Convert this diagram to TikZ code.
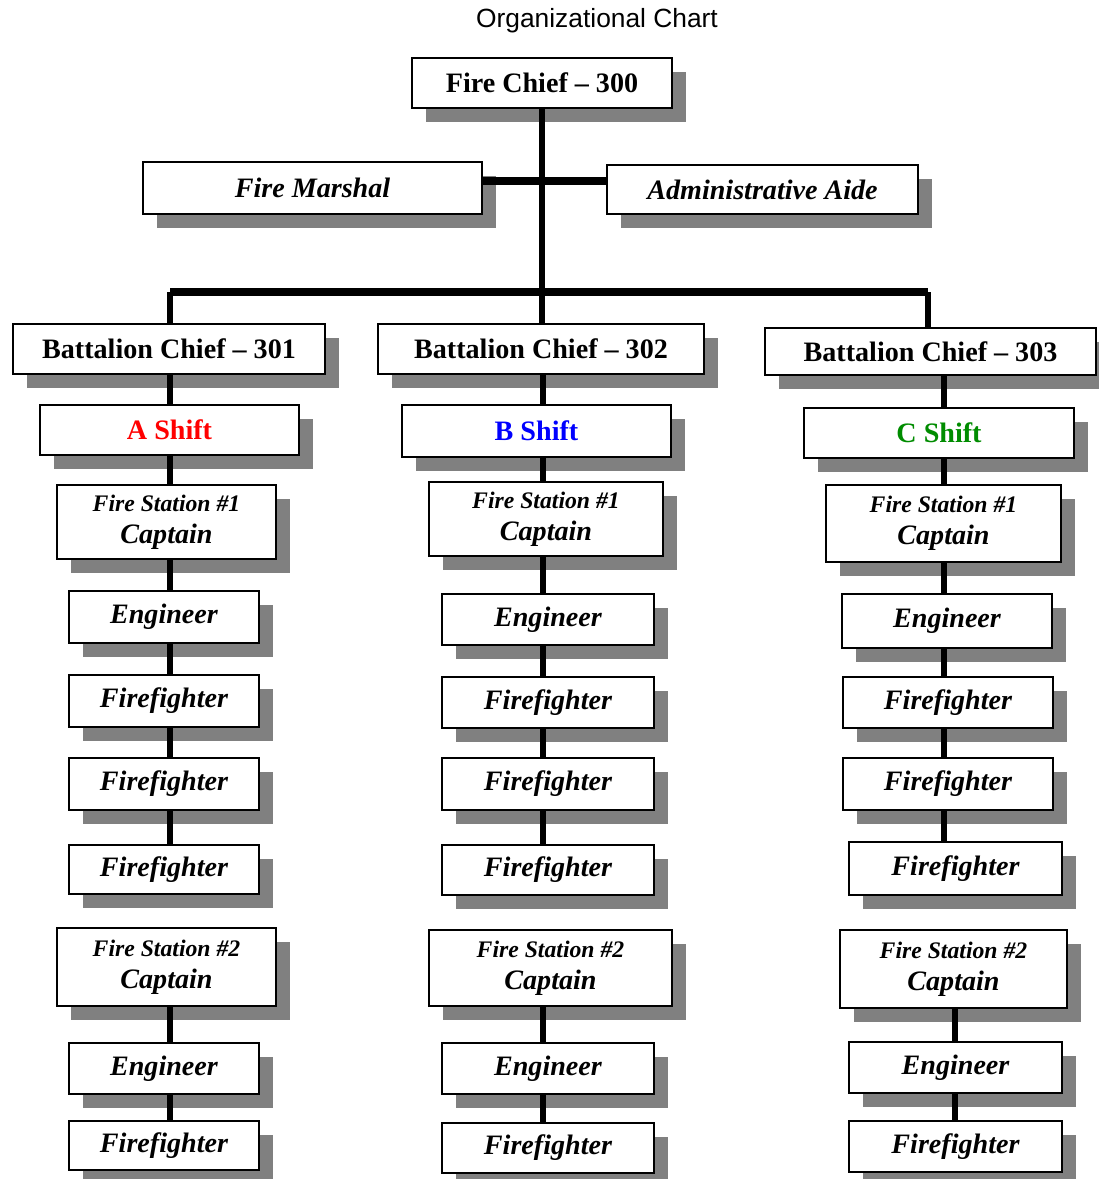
\documentclass[tikz,border=0pt]{standalone}
\usepackage{fontspec}
\setmainfont{Liberation Serif}
\newfontfamily\titlefont{Liberation Sans}
\usepackage{tikz}
\usetikzlibrary{shadows}

\definecolor{shadowgray}{RGB}{128,128,128}
\definecolor{shiftred}{RGB}{255,0,0}
\definecolor{shiftblue}{RGB}{0,0,255}
\definecolor{shiftgreen}{RGB}{0,140,0}

\tikzset{
  post/.style={draw, line width=1.6pt, fill=white, inner sep=1pt, align=center,
    font=\bfseries\itshape\fontsize{16}{18}\selectfont,
    drop shadow={shadow xshift=0.28cm, shadow yshift=-0.28cm,
                 fill=shadowgray, opacity=1}},
  head/.style={post, font=\bfseries\fontsize{16}{18}\selectfont},
  link/.style={line width=3.2pt},
  bar/.style={line width=4pt},
}

\newcommand{\station}[1]{{\fontsize{13.5}{17}\selectfont Fire Station \##1}\\Captain}

\begin{document}
\begin{tikzpicture}[x=0.02cm, y=-0.02cm]
\useasboundingbox (0,0) rectangle (1098,1179);

\node[font=\titlefont\fontsize{15}{18}\selectfont] (title) at (597,21) {Organizational Chart};

% top of the chart
\node[head, minimum width=5.2cm, minimum height=1.0cm] (chief) at (542,83) {Fire Chief -- 300};
\node[post, minimum width=6.78cm, minimum height=1.04cm] (fm) at (312.5,188) {Fire Marshal};
\node[post, minimum width=6.22cm, minimum height=0.98cm] (aa) at (762.5,189.5) {Administrative Aide};

\node[head, minimum width=6.24cm, minimum height=1.0cm] (bcA) at (169,349) {Battalion Chief -- 301};
\node[head, minimum width=6.52cm, minimum height=1.0cm] (bcB) at (541,349) {Battalion Chief -- 302};
\node[head, minimum width=6.62cm, minimum height=0.94cm] (bcC) at (930.5,351.5) {Battalion Chief -- 303};

% A shift
\node[head, text=shiftred, minimum width=5.18cm, minimum height=1.0cm] (shiftA) at (169.5,430) {A Shift};
\node[post, minimum width=4.38cm, minimum height=1.48cm] (capA1) at (166.5,522) {\station{1}};
\node[post, minimum width=3.8cm, minimum height=1.04cm] (engA1) at (164,617) {Engineer};
\node[post, minimum width=3.8cm, minimum height=1.04cm] (ffA1) at (164,701) {Firefighter};
\node[post, minimum width=3.8cm, minimum height=1.04cm] (ffA2) at (164,784) {Firefighter};
\node[post, minimum width=3.8cm, minimum height=0.98cm] (ffA3) at (164,869.5) {Firefighter};
\node[post, minimum width=4.38cm, minimum height=1.56cm] (capA2) at (166.5,967) {\station{2}};
\node[post, minimum width=3.8cm, minimum height=1.02cm] (engA2) at (164,1068.5) {Engineer};
\node[post, minimum width=3.8cm, minimum height=0.98cm] (ffA4) at (164,1145.5) {Firefighter};

% B shift
\node[head, text=shiftblue, minimum width=5.38cm, minimum height=1.04cm] (shiftB) at (536.5,431) {B Shift};
\node[post, minimum width=4.68cm, minimum height=1.48cm] (capB1) at (546,519) {\station{1}};
\node[post, minimum width=4.24cm, minimum height=1.02cm] (engB1) at (548,619.5) {Engineer};
\node[post, minimum width=4.24cm, minimum height=1.02cm] (ffB1) at (548,702.5) {Firefighter};
\node[post, minimum width=4.24cm, minimum height=1.04cm] (ffB2) at (548,784) {Firefighter};
\node[post, minimum width=4.24cm, minimum height=1.0cm] (ffB3) at (548,870) {Firefighter};
\node[post, minimum width=4.86cm, minimum height=1.52cm] (capB2) at (550.5,968) {\station{2}};
\node[post, minimum width=4.24cm, minimum height=1.02cm] (engB2) at (548,1068.5) {Engineer};
\node[post, minimum width=4.24cm, minimum height=1.0cm] (ffB4) at (548,1148) {Firefighter};

% C shift
\node[head, text=shiftgreen, minimum width=5.4cm, minimum height=1.0cm] (shiftC) at (939,433) {C Shift};
\node[post, minimum width=4.7cm, minimum height=1.54cm] (capC1) at (943.5,523.5) {\station{1}};
\node[post, minimum width=4.2cm, minimum height=1.08cm] (engC1) at (947,621) {Engineer};
\node[post, minimum width=4.2cm, minimum height=1.02cm] (ffC1) at (948,702.5) {Firefighter};
\node[post, minimum width=4.2cm, minimum height=1.04cm] (ffC2) at (948,784) {Firefighter};
\node[post, minimum width=4.26cm, minimum height=1.06cm] (ffC3) at (955.5,868.5) {Firefighter};
\node[post, minimum width=4.54cm, minimum height=1.56cm] (capC2) at (953.5,969) {\station{2}};
\node[post, minimum width=4.26cm, minimum height=1.02cm] (engC2) at (955.5,1067.5) {Engineer};
\node[post, minimum width=4.26cm, minimum height=1.02cm] (ffC4) at (955.5,1146.5) {Firefighter};

% connectors
\coordinate (barL) at (170,292);
\coordinate (barR) at (928,292);
\coordinate (aideBar) at (0,181);
\coordinate (spA) at (170,0);
\coordinate (spB) at (543,0);
\coordinate (spC) at (944,0);
\coordinate (spCC) at (955,0);

\draw[link] (chief.south) -- (chief.south |- bcB.north);
\draw[bar] (fm.east |- aideBar) -- (aa.west |- aideBar);
\draw[bar] (barL) -- (barR);
\draw[link] (barL) -- (barL |- bcA.north);
\draw[link] (barR) -- (barR |- bcC.north);

\foreach \u/\v/\s in {bcA/shiftA/spA, shiftA/capA1/spA, capA1/engA1/spA, engA1/ffA1/spA,
    ffA1/ffA2/spA, ffA2/ffA3/spA, capA2/engA2/spA, engA2/ffA4/spA,
    bcB/shiftB/spB, shiftB/capB1/spB, capB1/engB1/spB, engB1/ffB1/spB,
    ffB1/ffB2/spB, ffB2/ffB3/spB, capB2/engB2/spB, engB2/ffB4/spB,
    bcC/shiftC/spC, shiftC/capC1/spC, capC1/engC1/spC, engC1/ffC1/spC,
    ffC1/ffC2/spC, ffC2/ffC3/spC, capC2/engC2/spCC, engC2/ffC4/spCC}
  \draw[link] (\u.south -| \s) -- (\v.north -| \s);

\end{tikzpicture}
\end{document}
